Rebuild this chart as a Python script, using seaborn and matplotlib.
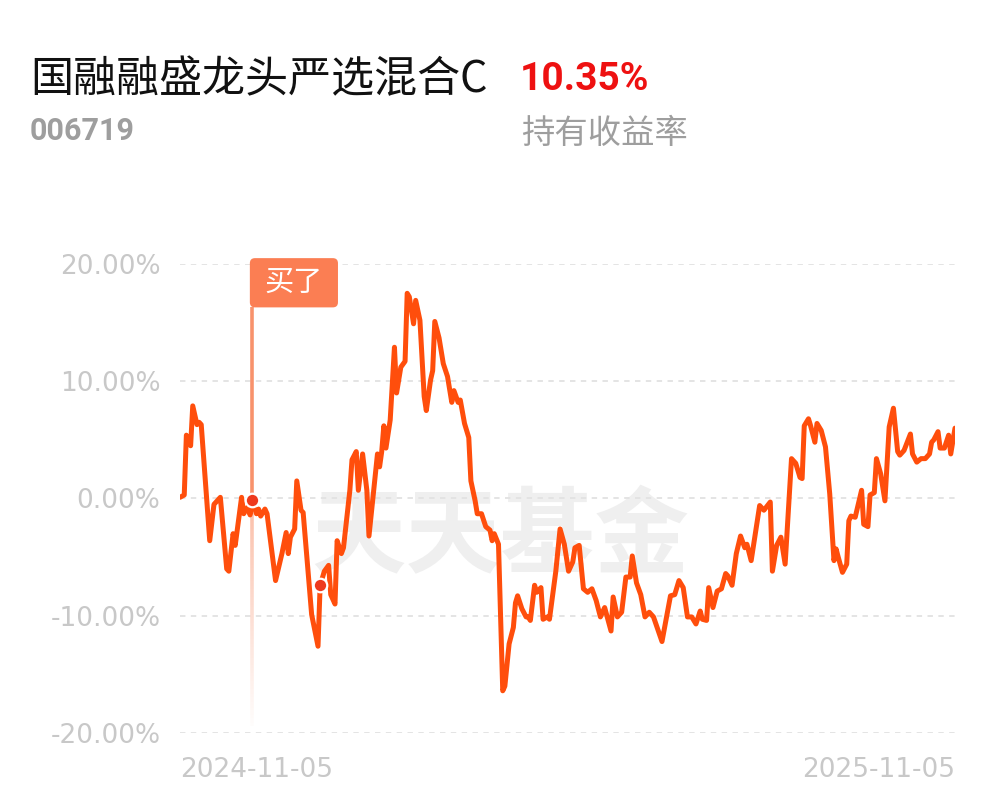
import numpy as np
import pandas as pd
import seaborn as sns
import matplotlib.pyplot as plt
import matplotlib.dates as mdates
from matplotlib.collections import LineCollection
from matplotlib.patches import FancyBboxPatch

# texts
fund_name = "国融融盛龙头严选混合C"
fund_code = "006719"
hold_return = "10.35%"
hold_label = "持有收益率"
buy_label = "买了"
watermark = "天天基金"

start_date = "2024-11-05"
end_date = "2025-11-05"

# days since start date, holding return (%)
day_offset = [0, 2, 3, 5, 6, 8, 9, 10, 14, 16, 19, 22, 23, 25, 26, 29, 30, 32, 33, 34,
              36, 37, 38, 40, 41, 45, 48, 50, 51, 52, 54, 55, 57, 58, 62, 65, 66, 68, 70, 71,
              73, 74, 76, 77, 80, 81, 83, 84, 86, 88, 89, 93, 94, 95, 96, 97, 99, 101, 102, 104,
              106, 107, 108, 110, 111, 113, 115, 116, 118, 119, 120, 122, 124, 126, 128, 129, 131, 132, 134, 136,
              137, 139, 140, 142, 144, 146, 147, 148, 150, 152, 153, 155, 157, 158, 159, 161, 163, 164, 165, 167,
              168, 170, 171, 173, 174, 177, 179, 181, 183, 185, 186, 188, 190, 192, 194, 196, 198, 200, 203, 204,
              206, 208, 210, 212, 213, 215, 217, 219, 221, 223, 227, 231, 233, 235, 237, 239, 241, 243, 245, 246,
              248, 249, 251, 253, 255, 257, 258, 260, 262, 264, 266, 267, 269, 273, 275, 278, 279, 281, 283, 285,
              288, 290, 292, 293, 294, 296, 297, 299, 300, 302, 304, 306, 308, 309, 310, 312, 314, 315, 316, 318,
              321, 322, 324, 325, 327, 328, 330, 332, 334, 336, 338, 339, 341, 344, 345, 347, 349, 351, 353, 354,
              355, 357, 358, 360, 362, 363, 365]
return_pct = [0.1, 0.3, 5.4, 4.5, 7.9, 6.3, 6.5, 6.3, -3.6, -0.5, 0.1, -6.0, -6.2, -3.0, -4.0, 0.1, -1.3, -0.7, -1.4, -0.1,
              -1.3, -0.9, -1.5, -0.9, -1.3, -7.0, -4.7, -2.9, -4.7, -3.3, -2.6, 1.5, -1.0, -1.2, -9.9, -12.6, -7.4, -6.2, -5.7, -8.2,
              -9.0, -3.6, -4.7, -4.2, 0.7, 3.3, 4.0, 0.7, 3.8, 0.7, -3.2, 3.8, 2.7, 4.0, 6.2, 4.3, 6.7, 12.9, 9.0, 11.2,
              11.7, 17.5, 17.2, 14.9, 16.9, 15.2, 8.7, 7.5, 10.1, 10.9, 15.1, 13.7, 11.5, 10.4, 8.2, 9.2, 8.2, 8.4, 6.4, 5.2,
              1.5, -0.2, -1.3, -1.3, -2.4, -2.7, -3.6, -3.0, -3.9, -16.4, -16.0, -12.4, -11.0, -8.9, -8.3, -9.4, -10.1, -10.1, -10.4, -7.4,
              -8.0, -7.6, -10.3, -10.1, -10.3, -6.2, -2.6, -3.9, -6.2, -5.4, -4.2, -4.0, -7.7, -8.0, -7.7, -8.7, -10.1, -9.3, -11.3, -8.4,
              -10.1, -9.7, -6.7, -6.7, -4.9, -7.2, -8.2, -10.1, -9.7, -10.1, -12.2, -8.3, -8.2, -7.0, -7.6, -10.1, -10.1, -10.7, -9.6, -10.3,
              -10.4, -7.6, -9.3, -7.9, -7.7, -6.4, -6.6, -7.4, -4.7, -3.2, -4.2, -3.9, -5.3, -0.6, -1.0, -0.3, -6.2, -4.0, -3.3, -5.6,
              3.4, 3.0, 1.8, 1.7, 6.2, 6.8, 6.2, 4.8, 6.4, 5.8, 4.4, 0.4, -5.3, -4.3, -5.0, -6.3, -5.6, -1.9, -1.5, -1.6,
              0.7, -2.2, -2.4, 0.3, 0.5, 3.4, 2.1, -0.2, 6.1, 7.7, 4.0, 3.7, 4.1, 5.5, 3.8, 3.1, 3.4, 3.4, 3.8, 4.8,
              5.0, 5.7, 4.3, 4.3, 5.4, 3.8, 6.0]
assert len(day_offset) == len(return_pct)

buy_day = 34
mark_days = [34, 66]

y_ticks = [20, 10, 0, -10, -20]
y_tick_labels = ["20.00%", "10.00%", "0.00%", "-10.00%", "-20.00%"]

line_color = "#FF4E0C"
dot_color = "#EE3A1E"
tag_color = "#FB7E53"
grey_text = "#9E9E9E"
tick_grey = "#C8C8C8"

df = pd.DataFrame({
    "date": pd.Timestamp(start_date) + pd.to_timedelta(day_offset, unit="D"),
    "ret": return_pct,
})

sns.set_theme(style="white")
plt.rcParams["font.family"] = ["Noto Sans CJK SC", "DejaVu Sans"]

W, H = 997, 802
fig = plt.figure(figsize=(W / 100, H / 100), dpi=100)
ax = fig.add_axes([180 / W, 69 / H, 775 / W, 469 / H])

# watermark
ax.text(0.413, 0.415, watermark, transform=ax.transAxes, fontsize=68, fontweight="bold",
        color="#EFEFEF", ha="center", va="center", zorder=0.3)

sns.lineplot(data=df, x="date", y="ret", color=line_color, linewidth=3.6, ax=ax,
             zorder=3, solid_joinstyle="round", solid_capstyle="round")

# buy marker line with fading tail
buy_row = df[np.isin(day_offset, [buy_day])].iloc[0]
bx = mdates.date2num(buy_row["date"])
bval = buy_row["ret"]
ys = np.linspace(-19.4, 16.3, 160)
segs = [[(bx, ys[i]), (bx, ys[i + 1])] for i in range(len(ys) - 1)]
base = np.array([248, 140, 100]) / 255
cols = []
for i in range(len(ys) - 1):
    y = ys[i]
    if y >= bval:
        a = 0.95
    else:
        a = 0.02 + 0.55 * (y + 19.4) / (bval + 19.4)
    cols.append((*base, a))
lc = LineCollection(segs, colors=cols, linewidths=2.6, zorder=2, clip_on=False)
ax.add_collection(lc)

# tag box
box = FancyBboxPatch((bx - 1.1, 16.3), 41.5, 4.2,
                     boxstyle="round,pad=0,rounding_size=2.4", mutation_aspect=0.18,
                     fc=tag_color, ec="none", zorder=4, clip_on=False)
ax.add_patch(box)
ax.text(bx - 1.1 + 20.75, 18.4, buy_label, color="white", fontsize=21,
        ha="center", va="center", zorder=5, clip_on=False)

# trade dots
marks = df[np.isin(day_offset, mark_days)]
ax.scatter(marks["date"], marks["ret"], s=95, color=dot_color, edgecolor="white",
           linewidth=1.6, zorder=6)

ax.set_xlim(pd.Timestamp(start_date), pd.Timestamp(end_date))
ax.set_ylim(-20, 20)
ax.set_yticks(y_ticks)
ax.set_yticklabels(y_tick_labels, family="DejaVu Sans")
ax.set_xticks([pd.Timestamp(start_date), pd.Timestamp(end_date)])
ax.set_xticklabels([start_date, end_date], family="DejaVu Sans")
xl = ax.get_xticklabels()
xl[0].set_ha("left")
xl[1].set_ha("right")
ax.tick_params(axis="y", length=0, pad=14, labelsize=19, labelcolor=tick_grey)
ax.tick_params(axis="x", length=0, pad=17, labelsize=19, labelcolor=tick_grey)
ax.set_xlabel("")
ax.set_ylabel("")
for s in ax.spines.values():
    s.set_visible(False)
ax.yaxis.grid(True, color="#E2E2E2", linestyle=(0, (3, 3)), linewidth=1.3)
ax.xaxis.grid(False)

# header
fig.text(30 / W, 1 - 80 / H, fund_name, fontsize=31, color="#111111", ha="left", va="center")
fig.text(520 / W, 1 - 80 / H, hold_return, fontsize=28, fontweight="bold", color="#EE1111",
         ha="left", va="center", family=["Roboto", "DejaVu Sans"])
fig.text(30 / W, 1 - 131 / H, fund_code, fontsize=22, fontweight="bold", color=grey_text,
         ha="left", va="center", family=["Roboto", "DejaVu Sans"])
fig.text(521 / W, 1 - 133 / H, hold_label, fontsize=24, color=grey_text, ha="left", va="center")

fig.savefig("out.png", dpi=100, facecolor="white")
